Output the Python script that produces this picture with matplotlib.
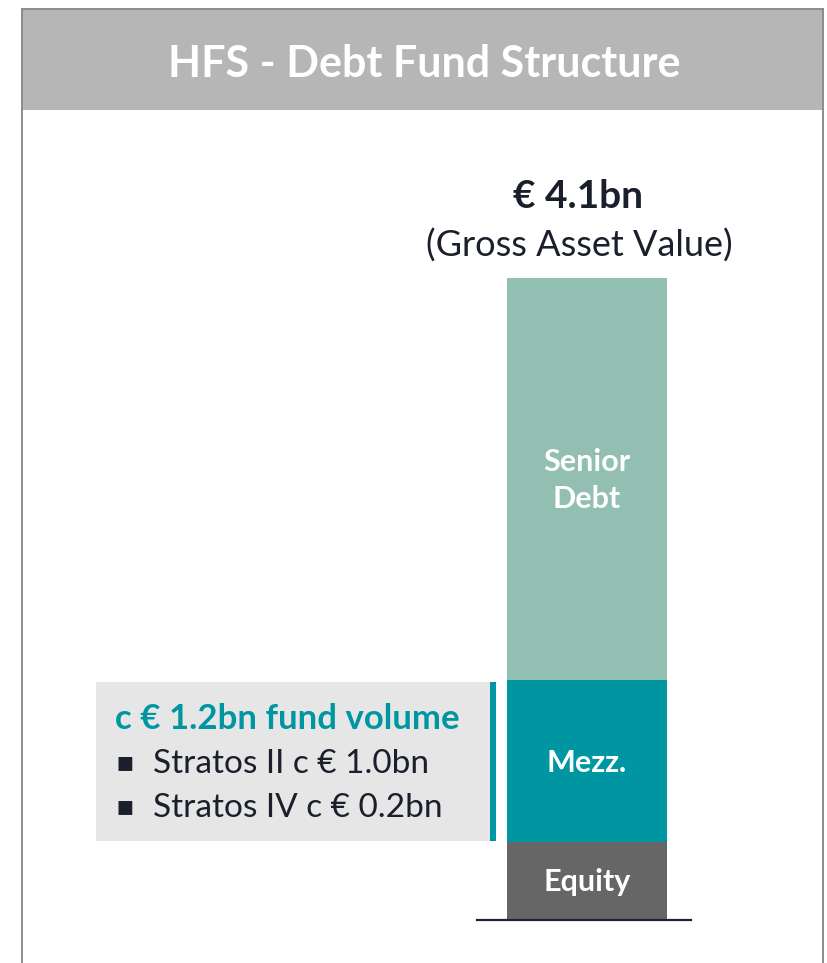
import matplotlib.pyplot as plt
from matplotlib.patches import Rectangle
from matplotlib.lines import Line2D

plt.rcParams['font.family'] = ['Lato', 'DejaVu Sans']

# ---------- Data ----------
layers = ["Equity", "Mezz.", "Senior\nDebt"]
values = [0.5, 1.03, 2.57]  # EUR bn, stacked bottom to top
colors = ["#666666", "#0096a1", "#93bfb3"]
total_label = "€ 4.1bn"
total_sub = "(Gross Asset Value)"
title = "HFS - Debt Fund Structure"
fund_head = "c € 1.2bn fund volume"
fund_items = ["Stratos II c € 1.0bn", "Stratos IV c € 0.2bn"]

W, H = 827, 963
fig = plt.figure(figsize=(W / 100, H / 100), dpi=100)
fig.patch.set_facecolor("white")

def fx(px):
    return px / W

def fy(py):
    return 1 - py / H

# ---------- Frame and title band ----------
fig.patches.append(Rectangle((fx(22), fy(110)), fx(823) - fx(22), fy(9) - fy(110),
                             transform=fig.transFigure, facecolor="#b6b6b6", edgecolor="none"))
for xs, ys in [([22, 22], [9, 963]), ([823, 823], [9, 963]), ([22, 823], [9, 9])]:
    fig.lines.append(Line2D([fx(x) for x in xs], [fy(y) for y in ys],
                            transform=fig.transFigure, color="#8c8c8c", lw=1.4))
fig.text(fx(424), fy(64), title, ha="center", va="center", color="white",
         fontsize=31, fontweight="bold")

# ---------- Stacked bar ----------
ax = fig.add_axes([fx(477), fy(920), fx(691) - fx(477), (920 - 278) / H])
bottom = 0
for name, v, c in zip(layers, values, colors):
    ax.bar(0.014, v, width=0.748, bottom=bottom, color=c)
    ax.text(0.014, bottom + v / 2 - 0.01, name, ha="center", va="center", color="white",
            fontsize=22, fontweight="bold", linespacing=1.4)
    bottom += v
ax.set_xlim(-0.5, 0.5)
ax.set_ylim(0, sum(values))
ax.set_xticks([])
ax.set_yticks([])
for s in ["top", "left", "right"]:
    ax.spines[s].set_visible(False)
ax.spines["bottom"].set_color("#1f2430")
ax.spines["bottom"].set_linewidth(1.6)
ax.patch.set_alpha(0)

fig.text(fx(578), fy(196), total_label, ha="center", va="center", color="#1a1f2b",
         fontsize=28, fontweight="bold")
fig.text(fx(579), fy(246), total_sub, ha="center", va="center", color="#1a1f2b",
         fontsize=26)

# ---------- Fund volume box ----------
fig.patches.append(Rectangle((fx(96), fy(841)), fx(490) - fx(96), fy(682) - fy(841),
                             transform=fig.transFigure, facecolor="#e6e6e6", edgecolor="none"))
fig.patches.append(Rectangle((fx(490), fy(841)), fx(496) - fx(490), fy(682) - fy(841),
                             transform=fig.transFigure, facecolor="#0096a1", edgecolor="none"))
fig.text(fx(115), fy(719), fund_head, ha="left", va="center", color="#0096a1",
         fontsize=25, fontweight="bold")
for i, item in enumerate(fund_items):
    y = 764 + i * 44
    fig.text(fx(116), fy(y - 2), "▪", ha="left", va="center", color="#1a1f2b",
             fontsize=20, family=["DejaVu Sans"])
    fig.text(fx(153), fy(y), item, ha="left", va="center", color="#1a1f2b", fontsize=24)

fig.savefig("out.png", dpi=100)
